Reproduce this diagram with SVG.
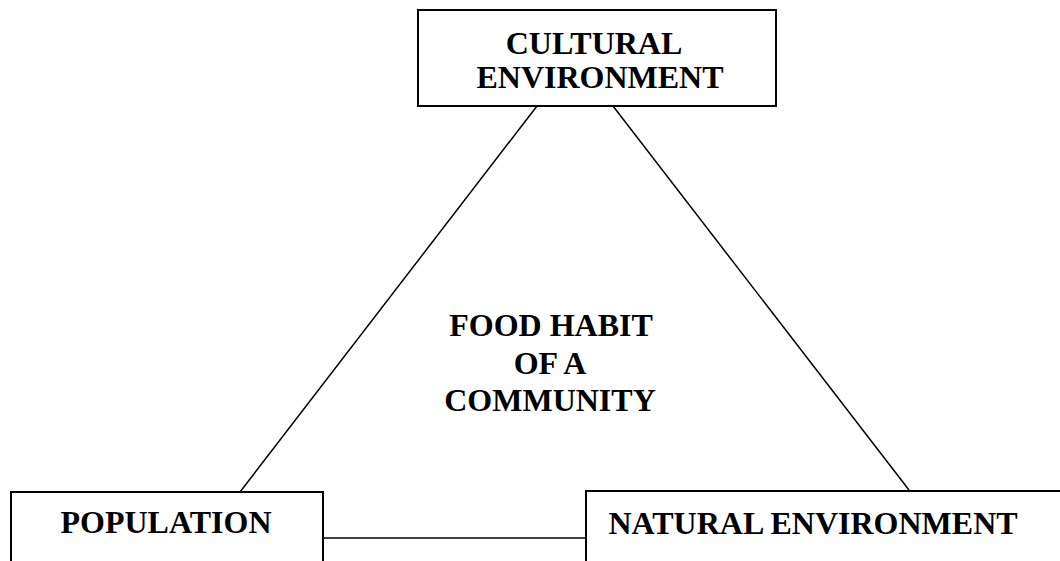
<svg xmlns="http://www.w3.org/2000/svg" width="1060" height="561" viewBox="0 0 1060 561">
<style>
.box{fill:#fff;stroke:#000;stroke-width:2}
.ln{stroke:#000;stroke-width:1.5;fill:none}
text{font-family:"Liberation Serif","Times New Roman",serif;font-weight:bold;font-size:32px;fill:#000;text-anchor:middle}
</style>
<rect x="0" y="0" width="1060" height="561" fill="#fff"/>
<g id="connectors">
<line class="ln" x1="537" y1="106" x2="240" y2="492"/>
<line class="ln" x1="613" y1="106" x2="909" y2="490"/>
<line class="ln" x1="323" y1="538" x2="586" y2="538"/>
</g>
<g id="cultural">
<rect class="box" x="418" y="10" width="358" height="96"/>
<text x="594" y="54">CULTURAL</text>
<text x="600" y="88">ENVIRONMENT</text>
</g>
<g id="population">
<rect class="box" x="11" y="492" width="312" height="90"/>
<text x="166" y="533">POPULATION</text>
</g>
<g id="natural">
<rect class="box" x="586" y="491" width="500" height="90"/>
<text x="813" y="534">NATURAL ENVIRONMENT</text>
</g>
<g id="center">
<text x="551" y="336">FOOD HABIT</text>
<text x="550" y="374">OF A</text>
<text x="550" y="411">COMMUNITY</text>
</g>
</svg>
